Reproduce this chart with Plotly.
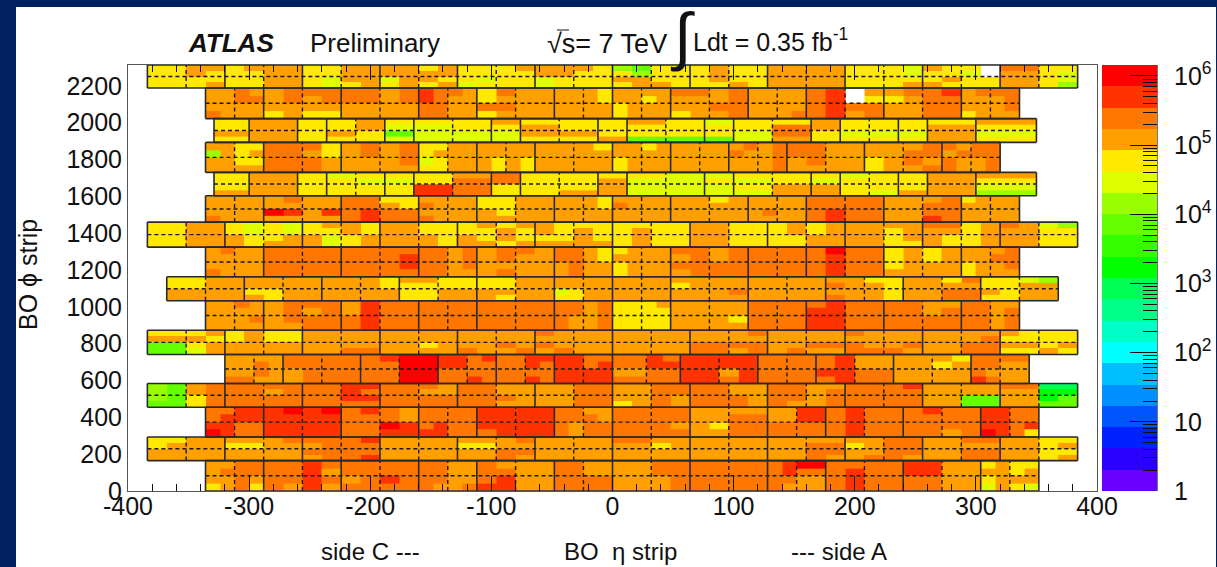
import numpy as np
import plotly.graph_objects as go
from plotly.subplots import make_subplots

W, H = 1217, 567

# colour bar bins, bottom to top (20 contours)
PALETTE = ["#6A00FF", "#2A00FF", "#0022FF", "#0055FF", "#0090FF", "#00BFFF", "#00FFFF",
           "#00FFC8", "#00FF88", "#00FF55", "#00FF00", "#33FF00", "#66FF00", "#99FF00",
           "#DFFF00", "#FFE900", "#FFA000", "#FF7700", "#FF3300", "#FF0000"]
LOG_MAX = 6.158
BIN = LOG_MAX / len(PALETTE)
# letter used for a cell -> colour bin it was read in
CODE_BIN = {"S": 9, "B": 10, "N": 11, "H": 12, "G": 13, "L": 14, "Y": 15, "O": 16, "D": 17, "T": 18, "R": 19}

# chamber edges per layout (strip numbers)
CH_A = [-384, -320, -256, -192, -128, -64, 0, 64, 128, 192, 256, 320, 384]
CH_B = [-336, -288, -224, -160, -112, -48, 0, 48, 112, 160, 224, 288, 336]
CH_D = [-336, -288, -224, -160, -112, -64, 0, 48, 96, 144, 208, 272, 320]
CH_E = [-368, -304, -240, -176, -112, -48, 0, 48, 112, 176, 240, 304, 368]
CH_F = [-320, -272, -208, -144, -96, -48, 0, 56, 120, 168, 232, 296, 344]
CH_G = [-336, -288, -224, -160, -112, -48, 0, 64, 128, 176, 240, 304, 352]
CH_C = [-329, -300, -260, -236, -188, -164, -100, -76, -12, 12, 76, 100, 164, 188, 236, 260, 300, 350]
CH_C_CELLS = [-329, -300, -260, -236, -212, -188, -164, -132, -100, -76, -44, -12, 12, 44, 76, 100,
              132, 164, 188, 212, 236, 260, 300, 350]
CH_C_DASH = [-212, -132, -44, 44, 132, 212]

# phi boundaries of the sector rows, bottom to top
ROW_Y = [0, 165, 293, 455, 584, 741, 873, 1033, 1163, 1324, 1460, 1603, 1730, 1893, 2022, 2188, 2313]

# cell levels, rows top to bottom, strips top to bottom
ROW_16 = ["YYOO YOOO YYOO OOYO YYYO OOOY GHYY YOYY OOOO YYYL OYYW DDYY",
          "YYOY YYOO YYOO OOOO YYYY OOYY YGYY YOYY OOOO YYYL YYLW OOYL",
          "YYYY YYOO YLOO LOOY YLYY LYYY OOYY YOYY OOOO YYYY YOYY OOYL",
          "YYYO YYOO YLYO YOYO LYYY LYYY YOOY YYOY OOOO YYYO OYYY OOYG"]
ROW_15 = ["OODO ODDD DDOD TDDO YDOO OOOY OOOO DDOD OOOO DTWO ODDT ODDD",
          "OODD ODOD DDOD TDOO YOOO OOOY OOYO OOOD OOOO DTWY YODD OOOD",
          "OOOO OOOO OOOO DDOO DDOO OOOO YOOO OODD OOOO DTDD OODD OOOD",
          "DOOO YOYY OOOO DDOO YOOO OOOO YOOO YOOD OOOD DTOD OODD YOOO"]
ROW_14 = ["Y O Y Y O Y Y Y O Y Y Y O Y L Y Y O Y Y Y Y O",
          "Y O Y Y O L L Y Y O Y Y Y Y Y Y D O Y Y Y O Y",
          "O O Y O Y H L L L O O Y Y Y Y L D Y L L L O L",
          "Y O Y Y Y L L L L Y Y O H H H L O Y Y Y Y O Y"]
ROW_13 = ["OOYY DDDY ODOD YYOO OOOO OOOY OOYO OOOO ODOD DDOO OOOD DODD",
          "GOYO DDOY ODOD YOOO OOOO OOOO OOOO OOOO DOOD DDOO OODD ODDD",
          "OOYY DDDO OOOD LYOO OYOY OOOO YOOO OOOO OOOD ODOO YODO DOOD",
          "OOOO DDDO OOOO YYOO OYOY OOOO YOOO OOOO OOOD OOOO YOOD DOOD"]
ROW_12 = ["Y O Y L Y Y Y O D Y Y Y Y L L Y Y Y L Y Y O O",
          "Y O Y Y L L Y D D Y Y O L L Y L Y L Y Y Y O Y",
          "Y O Y Y Y Y T D Y Y Y O L L L Y O O Y Y Y O L",
          "O O Y Y Y Y T D Y Y O O L L L L O O Y L O O G"]
ROW_11 = ["OOOO ODOO DDYY OOOO YYOO OOOY OOOO OOYO OOOO DDDD OOOD YOOO",
          "OOOO OOOO DDOY DOOO YYOO OOOY DOOO OOOO OOOO DDDD OODD OOOO",
          "OOOO RTOT DTDD OOOO OYOO OOOO OOOO OOOO ODOO DTDD OODD OOOO",
          "DOOO OOOO DTDD DOOO OOOO OOOO OOOO OOOO OOOO DTDD OOTD OOOO"]
ROW_10 = ["YYOO YLYL YOOY OOYY YOYO OYYY YYYY OOYY YOYO OOOO DDYO DOLG",
          "YYOO YLYL YYOY OOYY YYOY OYOY YOYY OOYY YOYO OOYO OOYO OOYY",
          "YYOO OYYO OLYO OOOY OYOY YYOY YOYY OOYY YYOO OOYO OYYO OOYY",
          "YYOO OYOO OLYO OOOY OOYO OOOO YOYY OOYY YYOO OOYY OYYO OOYY"]
ROW_09 = ["ODOO DDDD DDDD DDOD ODDO DDOY YOOO DDOD DDDD DRDD YOYO OOOD",
          "OOOO DDDD DDDT DDOD ODOO DDOY OOOO ODOD DDDD DTDD YOYO OODD",
          "OOOO DDDD DDDT DDOD OOOO ODOO YOOO DDDD DDDD DTDD YOOO YOOD",
          "DOOO DDDD DDDD DDOO ODOO ODOO YOOO ODDD DDDD DTDD OOOO YOOO"]
ROW_08 = ["YYOO OOOO OOOY OOYY YYOO OOOO OOOO OOOO OOOO OOYY OOYD YYLG",
          "YYOO OOOO OOOY YYYY YYOO OOOO OOOO YOOO OOOO DOOY OOOO YYOO",
          "OOOO YYOO OOOO YYOO OOOO LYOO OOOO OOOD OOOO OOOY OODD OYOO",
          "OOOO OYOO OOOO YYOO OYOO YYOO OOOO OOOO OOOO DOOY OODD YYOO"]
ROW_07 = ["OODO ODDD OTDD DDDD DDDD DDOD YYYO OOOO DDDD DTDD DDOO DDOO",
          "OOOO ODOD OTDD DDDD DDDD DDOD YYYY OOOO DDDD TTDD DDOD DDOD",
          "OOOD ODDD DTDD DDDD DDDD DOOD YYYY OOOY DDDD TTDD DDDD DDOD",
          "OOOO OODD DTDD DDDD DDDD DOOD YYYY OOOO DDDD TTDD DDDD DDOD"]
ROW_06 = ["YYYO YOYY OOOO OOOO OOOO DOOO OOOO OOOD OOOO DOOO OOOO OYYY",
          "OOOY YOYY OOOO OOOO OOOO OOOO OOOO OOOO OOOO OOOO OOOD YYYY",
          "HHYO OOOO OOOO OOYO OODO DOOO OOOO DDDD OODD DOOD OODD OOYO",
          "HHLO OOOO OODD OOOO DOOD ODOO OOOO DDOD ODOO DDDO OODD YYOY"]
ROW_05 = ["OOOO DDDD DTRR TTDT DDTT TTDD DDTD TTTT DDDD DTOO OOOY DDDD",
          "OODO DDDD DDRR TTDD DDTD TTDT DDTT TTTT DDDD DTOO OOYO DDOO",
          "OODO ODDD DDRR DDDD DDDD TTTT OODD TTOT DDDD TTDD OOOO DOOO",
          "DDOO ODDD DDRR DDTD DDTD TTTT DDDD TTDT DDDD DTDD OOOO TDOO"]
ROW_04 = ["GHOD DDDD DDTT DDDO DDOO OODD OODD DDOO DDOO DDDT OOOO DDSS",
          "GHOD DDOD DDTD DDOO DDOO OODD OODD DDOO DDOD DDDD OOOO OOBB",
          "GHYD DDDD DDTT DDDD DDDO OODD OODO DDDO DDOD DDDD OOHH OOBH",
          "HHYD DDDD DDDD DDDD DDOO OODD YODO DDDO DOOD DDDD OOHH OOHH"]
ROW_03 = ["DDTT TRTR DTDO DDDD TTTT DDOO DDDD OOOO OOTT DTDD DTDD TTDD",
          "DTTT TTTT DDDO DDDD TTTT DDDO DDDD OODD OOTT DTDD DDDD TTDD",
          "TTDD TTTT DDRT DTDD TTTT DODD DDDO OYDD DDDD DTDD DDDD TTDT",
          "RTDD TTTT DDTT TTDD DTTT DODD DDDD OODD DDDD DTDD DDOD RTDY"]
ROW_02 = ["YYOO OOOD DDDT OOOO OOOD OOOO DDOO OOOO OOOO OODD OODD OOYY",
          "YOOO YYOO ODDD OOOO YYOO OOOO OOYO OOOO OODD YODD OOOO OOYO",
          "OOOO OOOO DDDD OOOO OODD OOOO OOOO OOOO OODD OODD OODD OOYY",
          "OOOO OOOO ODDT OOOO OODO OOOO OOOO OOOO OODO ODDO OODD OOYO"]
ROW_01 = ["OODD DDTD DDDD DDOO DOOO DDOO OODD DDDD DTRR DDDD TTOO YOYY",
          "ODDD DDTO DDDD DDOO DDOO DDOO OODD DDDD DTDD DTDD TTOO OOYO",
          "OODO DDTD ODTD DDOO DTOO DDDD OOOD DDDD DDOO DTDD DDOO YOOO",
          "YODY DOTO DDDD DOOD TTOO DDDD OOOD DDDD DOOO DTDD DDOO LOYL"]

ROWS = [(ROW_01, CH_G), (ROW_02, CH_A), (ROW_03, CH_G), (ROW_04, CH_A), (ROW_05, CH_F), (ROW_06, CH_A),
        (ROW_07, CH_B), (ROW_08, CH_E), (ROW_09, CH_B), (ROW_10, CH_A), (ROW_11, CH_B), (ROW_12, CH_C),
        (ROW_13, CH_D), (ROW_14, CH_C), (ROW_15, CH_B), (ROW_16, CH_A)]

X_TICKS = [-400, -300, -200, -100, 0, 100, 200, 300, 400]
X_LABELS = ["-400", "-300", "-200", "-100", "0", "100", "200", "300", "400"]
Y_TICKS = [0, 200, 400, 600, 800, 1000, 1200, 1400, 1600, 1800, 2000, 2200]
BAR_DECADES = [1, 10, 100, 1000, 10000, 100000, 1000000]
BAR_LABELS = ["1", "10", "10<sup>2</sup>", "10<sup>3</sup>", "10<sup>4</sup>", "10<sup>5</sup>", "10<sup>6</sup>"]
BAR_MINOR_DIGITS = [2, 3, 4, 5, 6, 7, 8, 9]

FONT = "Liberation Sans"
PLOT_L, PLOT_R, PLOT_T, PLOT_B = 128, 1097, 65, 491
BAR_L, BAR_R = 1102, 1157


def fx(p):
    return p / W


def fy(p):
    return 1 - p / H


colorscale = []
for i, c in enumerate(PALETTE):
    colorscale += [[i / len(PALETTE), c], [(i + 1) / len(PALETTE), c]]

fig = make_subplots(rows=1, cols=2)

solid_x, solid_y, dash_x, dash_y = [], [], [], []
for r, (strips, chambers) in enumerate(ROWS):
    y0, y1 = ROW_Y[r], ROW_Y[r + 1]
    cols = [list(s.replace(" ", "")) for s in strips]
    if chambers is CH_C:
        edges = np.array(CH_C_CELLS, dtype=float)
        vdash = CH_C_DASH
    else:
        edges = np.concatenate([np.linspace(a, b, 4, endpoint=False) for a, b in zip(chambers[:-1], chambers[1:])]
                               + [[chambers[-1]]])
        vdash = [(a + b) / 2 for a, b in zip(chambers[:-1], chambers[1:])]
    z = [[(CODE_BIN[ch] + 0.5) * BIN if ch in CODE_BIN else None for ch in row] for row in reversed(cols)]
    fig.add_trace(go.Heatmap(x=edges, y=np.linspace(y0, y1, len(strips) + 1), z=z, coloraxis="coloraxis",
                             hoverinfo="skip", showlegend=False), row=1, col=1)
    for e in chambers:
        solid_x += [e, e, None]
        solid_y += [y0, y1, None]
    for y in (y0, y1):
        solid_x += [chambers[0], chambers[-1], None]
        solid_y += [y, y, None]
    dash_x += [chambers[0], chambers[-1], None]
    dash_y += [(y0 + y1) / 2, (y0 + y1) / 2, None]
    for v in vdash:
        dash_x += [v, v, None]
        dash_y += [y0, y1, None]

fig.add_trace(go.Scatter(x=dash_x, y=dash_y, mode="lines", hoverinfo="skip", showlegend=False,
                         line=dict(color="#1a1a1a", width=1.4, dash="4px,3px")), row=1, col=1)
fig.add_trace(go.Scatter(x=solid_x, y=solid_y, mode="lines", hoverinfo="skip", showlegend=False,
                         line=dict(color="#2a2a2a", width=1.6)), row=1, col=1)

# colour bar drawn on its own logarithmic axis
bar_edges = [10 ** (i * BIN) for i in range(len(PALETTE) + 1)]
fig.add_trace(go.Heatmap(x=[0, 1], y=bar_edges, z=[[(i + 0.5) * BIN] for i in range(len(PALETTE))],
                         coloraxis="coloraxis", hoverinfo="skip", showlegend=False), row=1, col=2)

tickfont = dict(family=FONT, size=25, color="#111111")
fig.update_layout(
    width=W, height=H, autosize=False,
    margin=dict(l=0, r=0, t=0, b=0, autoexpand=False),
    paper_bgcolor="#002060", plot_bgcolor="white", showlegend=False,
    coloraxis=dict(colorscale=colorscale, cmin=0, cmax=LOG_MAX, showscale=False),
    xaxis=dict(domain=[fx(PLOT_L), fx(PLOT_R)], range=[-400, 400], tickmode="array", tickvals=X_TICKS,
               ticktext=X_LABELS, ticklabelstandoff=-7,
               ticks="inside", ticklen=15, tickcolor="#111111", tickwidth=1, tickfont=tickfont,
               showgrid=False, zeroline=False, showline=True, linecolor="#555555", linewidth=1, mirror="ticks",
               minor=dict(ticks="inside", ticklen=7, dtick=20, tick0=0, tickcolor="#111111", tickwidth=1,
                          showgrid=False)),
    yaxis=dict(domain=[fy(PLOT_B), fy(PLOT_T)], range=[0, 2313], tickmode="array", tickvals=Y_TICKS,
               ticks="", tickfont=tickfont, showgrid=False, zeroline=False, showline=True,
               linecolor="#555555", linewidth=1, mirror=True),
    xaxis2=dict(domain=[fx(BAR_L), fx(BAR_R)], range=[0, 1], showticklabels=False, ticks="", showgrid=False,
                zeroline=False, showline=False),
    yaxis2=dict(domain=[fy(PLOT_B), fy(PLOT_T)], type="log", range=[0, LOG_MAX], side="right", anchor="x2",
                tickmode="array", tickvals=BAR_DECADES, ticktext=BAR_LABELS, ticks="inside", ticklen=27,
                ticklabelstandoff=11,
                tickcolor="#111111", tickwidth=1, tickfont=tickfont, showgrid=False, zeroline=False,
                showline=True, linecolor="#777777", linewidth=1,
                minor=dict(ticks="inside", ticklen=14, tickcolor="#111111", tickwidth=1, showgrid=False,
                           tickmode="array",
                           tickvals=[d * m for d in BAR_DECADES[:-1] for m in BAR_MINOR_DIGITS])),
    shapes=[
        dict(type="rect", xref="paper", yref="paper", x0=fx(16), x1=fx(1216), y0=fy(567), y1=fy(7),
             fillcolor="white", line=dict(width=0), layer="below"),
        dict(type="line", xref="paper", yref="paper", x0=fx(557), x1=fx(569), y0=fy(30), y1=fy(30),
             line=dict(color="#111111", width=1)),
    ],
)


def label(text, x, y, size=25, anchor="left", **kw):
    fig.add_annotation(text=text, xref="paper", yref="paper", x=fx(x), y=fy(y), xanchor=anchor, yanchor="middle",
                       showarrow=False, font=dict(family=FONT, size=size, color="#111111"), **kw)


label("<b><i>ATLAS</i></b>", 186, 43, 26)
label("Preliminary", 308, 43, 26)
label("√s= 7 TeV", 545, 44, 27)
label("∫", 682, 36, 64, anchor="center")
label("Ldt = 0.35 fb<sup>-1</sup>", 691, 40, 25)
label("side C ---", 319, 551, 24)
label("BO  η strip", 562, 551, 24)
label("--- side A", 789, 551, 24)
label("BO ϕ strip", 28, 275, 25, anchor="center", textangle=-90)

fig.write_html("out.html", config=dict(displayModeBar=False),
               post_script="document.body.style.margin='0';document.body.style.overflow='hidden';")
